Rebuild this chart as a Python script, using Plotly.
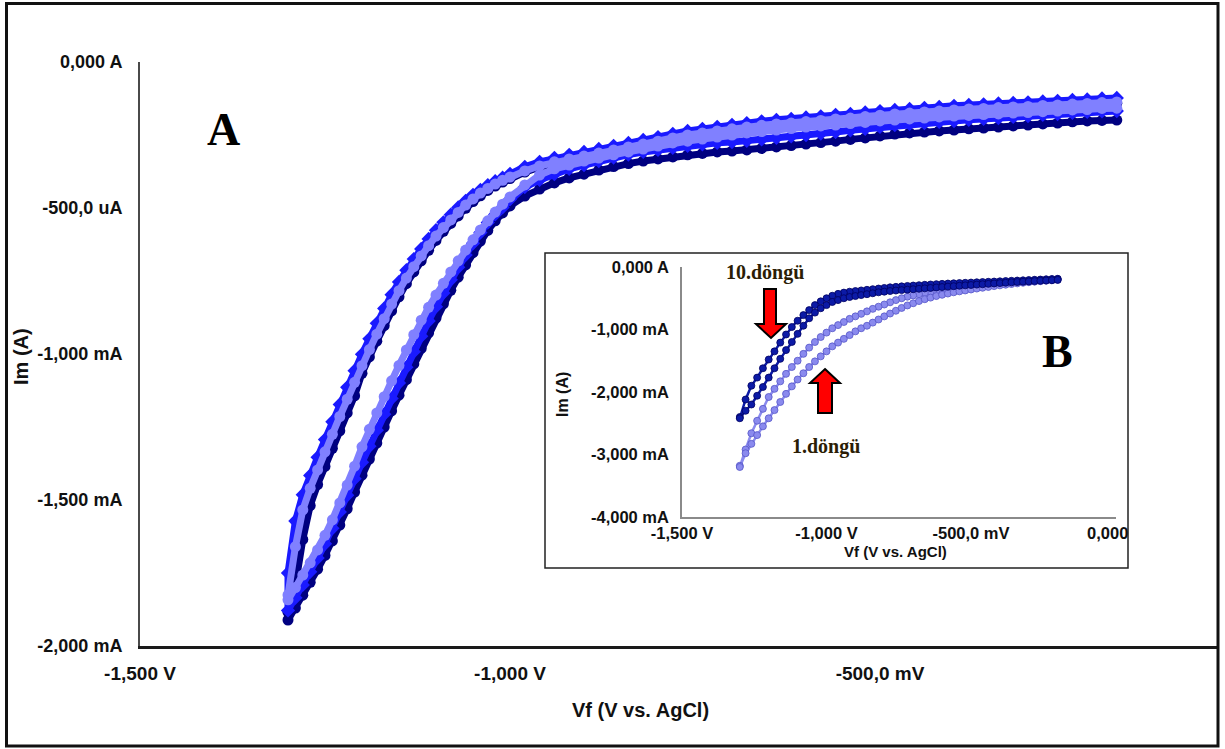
import plotly.graph_objects as go

W, H = 1225, 749

# ---------------- main chart data (potential in V, current in mA) ----------------
V_MAIN = [-1.30, -1.29, -1.28, -1.27, -1.26, -1.25, -1.24, -1.23, -1.22, -1.21,
          -1.20, -1.19, -1.18, -1.17, -1.16, -1.15, -1.14, -1.13, -1.12, -1.11,
          -1.10, -1.09, -1.08, -1.07, -1.06, -1.05, -1.04, -1.03, -1.02, -1.01,
          -1.00,
          -0.98, -0.96, -0.94, -0.92, -0.90, -0.88, -0.86, -0.84, -0.82, -0.80,
          -0.78, -0.76, -0.74, -0.72, -0.70, -0.68, -0.66, -0.64, -0.62, -0.60,
          -0.58, -0.56, -0.54, -0.52, -0.50, -0.48, -0.46, -0.44, -0.42, -0.40,
          -0.38, -0.36, -0.34, -0.32, -0.30, -0.28, -0.26, -0.24, -0.22, -0.20,
          -0.18]

# light-blue cycle
LIGHT_FWD = [-1.825, -1.660, -1.534, -1.460, -1.397, -1.335, -1.275, -1.214, -1.155, -1.097,
             -1.040, -0.985, -0.932, -0.879, -0.829, -0.783, -0.740, -0.701, -0.664, -0.629,
             -0.596, -0.567, -0.541, -0.515, -0.490, -0.469, -0.449, -0.433, -0.418, -0.405,
             -0.394,
             -0.373, -0.356, -0.342, -0.332, -0.322, -0.312, -0.301, -0.291, -0.281, -0.271,
             -0.260, -0.250, -0.243, -0.236, -0.229, -0.223, -0.217, -0.212, -0.209, -0.204,
             -0.200, -0.195, -0.192, -0.187, -0.182, -0.178, -0.175, -0.171, -0.168, -0.164,
             -0.161, -0.159, -0.156, -0.154, -0.152, -0.149, -0.147, -0.144, -0.142, -0.139,
             -0.137]
LIGHT_REV = [-1.842, -1.800, -1.757, -1.715, -1.671, -1.621, -1.568, -1.510, -1.449, -1.384,
             -1.318, -1.258, -1.202, -1.146, -1.092, -1.039, -0.986, -0.934, -0.884, -0.840,
             -0.798, -0.758, -0.719, -0.681, -0.644, -0.609, -0.575, -0.544, -0.514, -0.487,
             -0.462,
             -0.421, -0.387, -0.366, -0.353, -0.339, -0.329, -0.318, -0.308, -0.298, -0.288,
             -0.277, -0.271, -0.264, -0.257, -0.250, -0.243, -0.238, -0.233, -0.228, -0.223,
             -0.219, -0.216, -0.211, -0.207, -0.202, -0.199, -0.195, -0.192, -0.188, -0.185,
             -0.183, -0.180, -0.178, -0.175, -0.173, -0.170, -0.168, -0.164, -0.163, -0.159,
             -0.158]

# blue cycle
BLUE_FWD = [-1.750, -1.572, -1.482, -1.416, -1.354, -1.293, -1.232, -1.173, -1.114, -1.057,
            -1.001, -0.948, -0.895, -0.844, -0.797, -0.753, -0.713, -0.675, -0.640, -0.606,
            -0.576, -0.549, -0.523, -0.498, -0.476, -0.455, -0.438, -0.422, -0.408, -0.396,
            -0.383,
            -0.359, -0.342, -0.328, -0.318, -0.308, -0.298, -0.287, -0.277, -0.267, -0.257,
            -0.246, -0.236, -0.229, -0.222, -0.215, -0.209, -0.203, -0.198, -0.195, -0.190,
            -0.186, -0.181, -0.178, -0.173, -0.168, -0.164, -0.161, -0.157, -0.154, -0.150,
            -0.147, -0.145, -0.142, -0.140, -0.138, -0.135, -0.133, -0.130, -0.128, -0.125,
            -0.123]
BLUE_REV = [-1.878, -1.835, -1.791, -1.746, -1.699, -1.650, -1.597, -1.541, -1.484, -1.427,
            -1.371, -1.316, -1.261, -1.206, -1.152, -1.099, -1.045, -0.992, -0.939, -0.887,
            -0.838, -0.791, -0.746, -0.703, -0.661, -0.621, -0.584, -0.550, -0.522, -0.498,
            -0.470,
            -0.428, -0.404, -0.384, -0.366, -0.353, -0.339, -0.327, -0.317, -0.308, -0.301,
            -0.294, -0.287, -0.282, -0.277, -0.274, -0.270, -0.265, -0.260, -0.255, -0.250,
            -0.245, -0.240, -0.234, -0.229, -0.222, -0.216, -0.212, -0.209, -0.205, -0.202,
            -0.198, -0.195, -0.192, -0.188, -0.185, -0.181, -0.178, -0.174, -0.171, -0.169,
            -0.168]

# navy cycle
NAVY_FWD = [-1.884, -1.792, -1.635, -1.519, -1.447, -1.385, -1.323, -1.263, -1.202, -1.143,
            -1.066, -1.010, -0.956, -0.903, -0.852, -0.804, -0.759, -0.719, -0.681, -0.645,
            -0.611, -0.580, -0.553, -0.527, -0.501, -0.478, -0.458, -0.440, -0.425, -0.411,
            -0.399,
            -0.377, -0.360, -0.346, -0.336, -0.326, -0.316, -0.305, -0.295, -0.285, -0.275,
            -0.264, -0.254, -0.247, -0.240, -0.233, -0.227, -0.221, -0.216, -0.213, -0.208,
            -0.204, -0.199, -0.196, -0.191, -0.186, -0.182, -0.179, -0.175, -0.172, -0.168,
            -0.165, -0.163, -0.160, -0.158, -0.156, -0.153, -0.151, -0.148, -0.146, -0.143,
            -0.141]
NAVY_REV = [-1.911, -1.870, -1.826, -1.782, -1.737, -1.690, -1.640, -1.586, -1.530, -1.473,
            -1.415, -1.360, -1.305, -1.250, -1.195, -1.141, -1.088, -1.034, -0.981, -0.928,
            -0.877, -0.828, -0.782, -0.737, -0.695, -0.653, -0.613, -0.577, -0.544, -0.517,
            -0.493,
            -0.459, -0.435, -0.414, -0.397, -0.384, -0.370, -0.358, -0.348, -0.339, -0.332,
            -0.325, -0.318, -0.313, -0.308, -0.305, -0.301, -0.296, -0.291, -0.286, -0.281,
            -0.276, -0.271, -0.265, -0.260, -0.253, -0.247, -0.243, -0.240, -0.236, -0.233,
            -0.229, -0.226, -0.223, -0.219, -0.216, -0.212, -0.209, -0.205, -0.202, -0.200,
            -0.199]

# ---------------- inset data ----------------
V_INSET = [-1.30, -1.28, -1.26, -1.24, -1.22, -1.20, -1.18, -1.16, -1.14, -1.12,
           -1.10, -1.08, -1.06, -1.04, -1.02, -1.00, -0.98, -0.96, -0.94, -0.92,
           -0.90, -0.88, -0.86, -0.84, -0.82, -0.80, -0.78, -0.76, -0.74, -0.72,
           -0.70, -0.68, -0.66, -0.64, -0.62, -0.60, -0.58, -0.56, -0.54, -0.52,
           -0.50, -0.48, -0.46, -0.44, -0.42, -0.40, -0.38, -0.36, -0.34, -0.32,
           -0.30, -0.28, -0.26, -0.24, -0.22, -0.20]

CYC10_UP = [-2.40, -2.12, -1.90, -1.77, -1.62, -1.48, -1.35, -1.21, -1.08, -0.96,
            -0.86, -0.77, -0.69, -0.61, -0.55, -0.50, -0.46, -0.43, -0.41, -0.395,
            -0.385, -0.375, -0.365, -0.355, -0.345, -0.335, -0.325, -0.318, -0.310, -0.303,
            -0.297, -0.291, -0.285, -0.280, -0.275, -0.270, -0.265, -0.261, -0.257, -0.253,
            -0.249, -0.245, -0.241, -0.237, -0.233, -0.229, -0.225, -0.221, -0.217, -0.213,
            -0.209, -0.205, -0.201, -0.197, -0.193, -0.189]
CYC10_LO = [-2.42, -2.30, -2.20, -2.06, -1.92, -1.77, -1.62, -1.47, -1.33, -1.20,
            -1.07, -0.94, -0.82, -0.73, -0.66, -0.61, -0.56, -0.53, -0.50, -0.48,
            -0.465, -0.45, -0.435, -0.42, -0.405, -0.395, -0.385, -0.377, -0.370, -0.363,
            -0.356, -0.349, -0.342, -0.335, -0.328, -0.321, -0.314, -0.307, -0.300, -0.294,
            -0.288, -0.282, -0.276, -0.270, -0.264, -0.258, -0.252, -0.246, -0.241, -0.236,
            -0.231, -0.226, -0.221, -0.216, -0.211, -0.206]
CYC1_UP = [-3.18, -2.92, -2.66, -2.46, -2.27, -2.08, -1.95, -1.83, -1.71, -1.60,
           -1.50, -1.39, -1.29, -1.20, -1.12, -1.05, -0.98, -0.93, -0.88, -0.83,
           -0.79, -0.75, -0.71, -0.67, -0.635, -0.60, -0.565, -0.53, -0.50, -0.475,
           -0.455, -0.435, -0.415, -0.395, -0.38, -0.365, -0.35, -0.335, -0.322, -0.31,
           -0.30, -0.29, -0.28, -0.27, -0.262, -0.254, -0.246, -0.239, -0.232, -0.226,
           -0.220, -0.214, -0.208, -0.203, -0.198, -0.193]
CYC1_LO = [-3.20, -2.98, -2.83, -2.69, -2.55, -2.42, -2.29, -2.16, -2.03, -1.91,
           -1.80, -1.70, -1.60, -1.51, -1.43, -1.35, -1.27, -1.21, -1.15, -1.09,
           -1.03, -0.98, -0.94, -0.89, -0.84, -0.79, -0.745, -0.70, -0.655, -0.615,
           -0.58, -0.545, -0.515, -0.49, -0.465, -0.445, -0.425, -0.405, -0.39, -0.375,
           -0.36, -0.345, -0.332, -0.319, -0.306, -0.294, -0.283, -0.272, -0.262, -0.252,
           -0.243, -0.235, -0.227, -0.220, -0.213, -0.207]

for arr in (LIGHT_FWD, LIGHT_REV, BLUE_FWD, BLUE_REV, NAVY_FWD, NAVY_REV):
    assert len(arr) == len(V_MAIN), len(arr)
for arr in (CYC10_UP, CYC10_LO, CYC1_UP, CYC1_LO):
    assert len(arr) == len(V_INSET), len(arr)

SANS = "Liberation Sans, Arial, sans-serif"
SERIF = "Liberation Serif, Times New Roman, DejaVu Serif, serif"


def px(x):
    return x / W


def py(y):
    return 1 - y / H


def loop(xs, fwd, rev):
    return xs[::-1] + xs, fwd[::-1] + rev


fig = go.Figure()

main_series = [
    ("cycle navy", NAVY_FWD, NAVY_REV, "#000080", "circle"),
    ("cycle blue", BLUE_FWD, BLUE_REV, "#1a1aff", "diamond"),
    ("cycle light", LIGHT_FWD, LIGHT_REV, "#8080ff", "circle"),
]
for name, f, r, col, sym in main_series:
    xs, ys = loop(V_MAIN, f, r)
    fig.add_trace(go.Scatter(
        x=xs, y=ys, mode="lines+markers", name=name,
        line=dict(color=col, width=7),
        marker=dict(color=col, size=11, symbol=sym, line=dict(width=0)),
        xaxis="x", yaxis="y", showlegend=False, hoverinfo="skip"))

inset_series = [
    ("1.döngü", CYC1_UP, CYC1_LO, "#8a8aee", "#5656c8"),
    ("10.döngü", CYC10_UP, CYC10_LO, "#0c1aa6", "#000060"),
]
for name, up, lo, col, edge in inset_series:
    xs, ys = loop(V_INSET, up, lo)
    fig.add_trace(go.Scatter(
        x=xs, y=ys, mode="lines+markers", name=name,
        line=dict(color=col, width=2.5),
        marker=dict(color=col, size=7, line=dict(color=edge, width=0.8)),
        xaxis="x2", yaxis="y2", showlegend=False, hoverinfo="skip"))

ytick_main = dict(family=SANS, size=18, color="#111111", weight="bold")
xtick_main = dict(family=SANS, size=19, color="#111111", weight="bold")
tick_inset = dict(family=SANS, size=16.5, color="#111111", weight="bold")

fig.update_layout(
    width=W, height=H,
    margin=dict(l=0, r=0, t=0, b=0),
    paper_bgcolor="white", plot_bgcolor="rgba(0,0,0,0)",
    template="none",
    showlegend=False,
    xaxis=dict(domain=[px(140), px(1217)], range=[-1.5, -1.5 + 1077 / 740],
               showline=True, linecolor="#1a1a1a", linewidth=3,
               showgrid=False, zeroline=False, ticks="",
               tickvals=[-1.5, -1.0, -0.5],
               ticktext=["-1,500 V", "-1,000 V", "-500,0 mV"],
               tickfont=xtick_main, ticklabelstandoff=8, anchor="y"),
    yaxis=dict(domain=[py(646), py(62)], range=[-2.0, 0.0],
               showline=True, linecolor="#4a4a4a", linewidth=2,
               showgrid=False, zeroline=False, ticks="",
               tickvals=[0.0, -0.5, -1.0, -1.5, -2.0],
               ticktext=["0,000 A", "-500,0 uA", "-1,000 mA", "-1,500 mA", "-2,000 mA"],
               tickfont=ytick_main, ticklabelstandoff=12, anchor="x"),
    xaxis2=dict(domain=[px(682), px(1115.5)], range=[-1.5, 0.0],
                showline=True, linecolor="#8a8a8a", linewidth=1.5,
                showgrid=False, zeroline=False, ticks="",
                tickvals=[-1.5, -1.0, -0.5, 0.0],
                ticktext=["-1,500 V", "-1,000 V", "-500,0 mV", "0,000 V"],
                tickfont=tick_inset, ticklabelstandoff=0, anchor="y2"),
    yaxis2=dict(domain=[py(517), py(267)], range=[-4.0, 0.0],
                showline=True, linecolor="#8a8a8a", linewidth=1.5,
                showgrid=False, zeroline=False, ticks="",
                tickvals=[0, -1, -2, -3, -4],
                ticktext=["0,000 A", "-1,000 mA", "-2,000 mA", "-3,000 mA", "-4,000 mA"],
                tickfont=tick_inset, ticklabelstandoff=8, anchor="x2"),
)

shapes = []
# outer frame
shapes.append(dict(type="rect", xref="paper", yref="paper",
                   x0=px(6.5), x1=px(1218), y0=py(746), y1=py(3.5),
                   line=dict(color="#111111", width=3), fillcolor="rgba(0,0,0,0)", layer="above"))
# inset box
shapes.append(dict(type="rect", xref="paper", yref="paper",
                   x0=px(545), x1=px(1128), y0=py(568), y1=py(253),
                   line=dict(color="#222222", width=1.5), fillcolor="white", layer="below"))
# hide tick label overflow right of inset box
shapes.append(dict(type="rect", xref="paper", yref="paper",
                   x0=px(1129.2), x1=px(1170), y0=py(548), y1=py(518),
                   line=dict(width=0), fillcolor="white", layer="above"))


def path(points):
    return "M " + " L ".join(f"{px(a):.5f},{py(b):.5f}" for a, b in points) + " Z"


down_arrow = [(764, 289), (776, 289), (776, 324), (786, 324), (771, 338), (756, 324), (764, 324)]
up_arrow = [(825, 369), (840, 383), (832, 383), (832, 413), (818, 413), (818, 383), (810, 383)]
for pts in (down_arrow, up_arrow):
    shapes.append(dict(type="path", xref="paper", yref="paper", path=path(pts),
                       fillcolor="#ff0000", line=dict(color="#000000", width=2), layer="above"))
fig.update_layout(shapes=shapes)


def label(text, x, y, family, size, color="#111111", angle=0):
    return dict(text=text, x=px(x), y=py(y), xref="paper", yref="paper",
                xanchor="center", yanchor="middle", showarrow=False, textangle=angle,
                font=dict(family=family, size=size, color=color, weight="bold"))


ann = [
    label("Im (A)", 21, 357, SANS, 20, angle=-90),
    label("Vf (V vs. AgCl)", 640, 710, SANS, 20),
    label("A", 223, 130, SERIF, 46, color="#000000"),
    label("B", 1057, 351, SERIF, 46, color="#000000"),
    label("Im (A)", 562, 395, SANS, 16, angle=-90),
    label("Vf (V vs. AgCl)", 895, 551, SANS, 15),
    label("10.döngü", 765, 272, SERIF, 20, color="#2b1d05"),
    label("1.döngü", 826, 446, SERIF, 20, color="#2b1d05"),
]
fig.update_layout(annotations=ann)

fig.write_html("out.html")
